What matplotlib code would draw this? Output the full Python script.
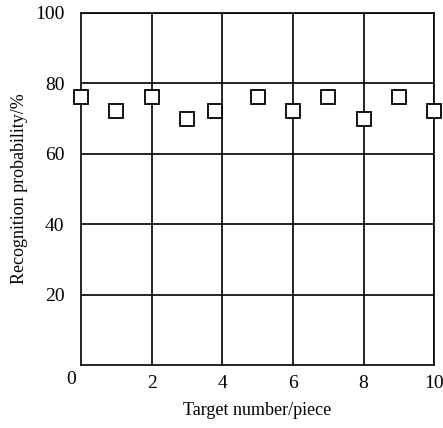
import numpy as np
import matplotlib.pyplot as plt

plt.rcParams['font.family'] = ['Liberation Serif', 'DejaVu Serif']

# target number and recognition probability (%)
target_num = [0, 1, 2, 3, 3.8, 5, 6, 7, 8, 9, 10]
recog_prob = [76, 72, 76, 70, 72, 76, 72, 76, 70, 76, 72]

xticks = [2, 4, 6, 8, 10]
yticks = [20, 40, 60, 80, 100]

fig = plt.figure(figsize=(4.43, 4.28), dpi=100)
ax = fig.add_axes([0.183, 0.147, 0.797, 0.823])

ax.plot(target_num, recog_prob, linestyle='none', marker='s', markersize=10,
        markerfacecolor='white', markeredgecolor='black', markeredgewidth=1.3,
        clip_on=False, zorder=5)

ax.set_xlim(0, 10)
ax.set_ylim(0, 100)
ax.set_xticks(xticks)
ax.set_yticks(yticks)
ax.tick_params(length=0, labelsize=14)
ax.tick_params(axis='x', pad=7)
ax.tick_params(axis='y', pad=12)
ax.grid(True, color='black', linewidth=1.2)
ax.set_axisbelow(True)
for s in ax.spines.values():
    s.set_linewidth(1.2)

# origin label shared by both axes
ax.text(-0.015, -0.017, '0', transform=ax.transAxes, fontsize=14,
        ha='right', va='top')

ax.set_xlabel('Target number/piece', fontsize=13, labelpad=7)
ax.set_ylabel('Recognition probability/%', fontsize=13, labelpad=5)

fig.savefig('out.png', dpi=100)
